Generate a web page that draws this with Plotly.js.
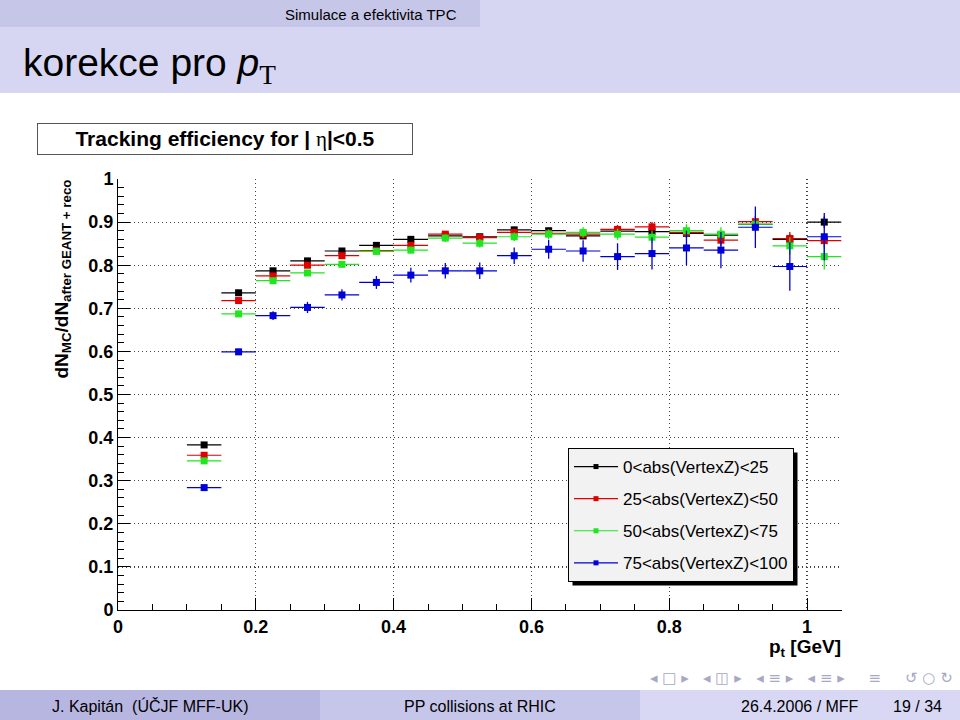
<!DOCTYPE html>
<html>
<head>
<meta charset="utf-8">
<script src="https://cdn.plot.ly/plotly-3.0.1.min.js"></script>
<style>html,body{margin:0;padding:0;background:#fff}#plot{width:960px;height:720px}</style>
</head>
<body>
<div id="plot"></div>
<script>
// bin centres (pt in GeV), bin half-width 0.025
const pt = [0.125,0.175,0.225,0.275,0.325,0.375,0.425,0.475,0.525,0.575,0.625,0.675,0.725,0.775,0.825,0.875,0.925,0.975,1.025];
const halfBin = 0.025;

const seriesNames = ["0&lt;abs(VertexZ)&lt;25","25&lt;abs(VertexZ)&lt;50","50&lt;abs(VertexZ)&lt;75","75&lt;abs(VertexZ)&lt;100"];

const effVz0_25   = [0.383,0.736,0.787,0.810,0.833,0.846,0.860,0.868,0.866,0.882,0.880,0.868,0.879,0.878,0.874,0.870,0.895,0.860,0.900];
const errVz0_25   = [0.004,0.004,0.004,0.004,0.005,0.005,0.005,0.006,0.006,0.007,0.007,0.008,0.008,0.009,0.010,0.010,0.011,0.012,0.013];
const effVz25_50  = [0.359,0.718,0.775,0.800,0.822,0.834,0.846,0.872,0.864,0.876,0.874,0.872,0.883,0.889,0.876,0.858,0.901,0.862,0.857];
const errVz25_50  = [0.005,0.005,0.005,0.005,0.006,0.006,0.007,0.007,0.008,0.008,0.009,0.010,0.010,0.011,0.012,0.013,0.014,0.015,0.016];
const effVz50_75  = [0.346,0.687,0.764,0.782,0.802,0.832,0.835,0.863,0.851,0.866,0.872,0.876,0.872,0.865,0.880,0.872,0.895,0.845,0.820];
const errVz50_75  = [0.005,0.006,0.006,0.007,0.007,0.008,0.008,0.009,0.010,0.010,0.011,0.012,0.013,0.014,0.015,0.016,0.017,0.020,0.030];
const effVz75_100 = [0.284,0.599,0.683,0.702,0.731,0.760,0.777,0.787,0.787,0.822,0.837,0.833,0.820,0.827,0.840,0.835,0.888,0.797,0.866];
const errVz75_100 = [0.006,0.007,0.010,0.013,0.013,0.015,0.017,0.018,0.019,0.019,0.022,0.025,0.031,0.037,0.040,0.042,0.048,0.056,0.055];

const xTickVals = [0,0.2,0.4,0.6,0.8,1];
const xTickText = ["0","0.2","0.4","0.6","0.8","1"];
const yTickVals = [0,0.1,0.2,0.3,0.4,0.5,0.6,0.7,0.8,0.9,1];
const yTickText = ["0","0.1","0.2","0.3","0.4","0.5","0.6","0.7","0.8","0.9","1"];

const colors = ["#000000","#e00000","#1fe61f","#0000d8"];
const effs = [effVz0_25, effVz25_50, effVz50_75, effVz75_100];
const errs = [errVz0_25, errVz25_50, errVz50_75, errVz75_100];

const W = 960, H = 720;
const px = v => v / W;
const py = v => 1 - v / H;

const traces = [];
effs.forEach((eff, i) => {
  traces.push({
    type: "scatter", mode: "markers", x: pt, y: eff,
    name: seriesNames[i], showlegend: false, legendgroup: "g" + i,
    marker: {symbol: "square", size: 7, color: colors[i]},
    error_x: {type: "constant", value: halfBin, width: 0, thickness: 1.2, color: colors[i]},
    error_y: {type: "data", array: errs[i], visible: true, width: 0, thickness: 1.3, color: colors[i]},
    cliponaxis: false, hoverinfo: "x+y"
  });
});
// legend entries (line + marker sample, as in the ROOT legend); they carry no points
effs.forEach((eff, i) => {
  traces.push({
    type: "scatter", mode: "lines+markers", x: [null], y: [null],
    name: seriesNames[i], legendgroup: "g" + i, showlegend: true,
    line: {color: colors[i], width: 1.2},
    marker: {symbol: "square", size: 5, color: colors[i]}
  });
});

const bold = "Liberation Sans, Arial, Helvetica, sans-serif";

const layout = {
  width: W, height: H,
  margin: {l: 0, r: 0, t: 0, b: 0},
  paper_bgcolor: "#ffffff", plot_bgcolor: "rgba(0,0,0,0)",
  showlegend: true,
  font: {family: bold, color: "#000"},
  xaxis: {
    domain: [px(118), px(841.5)], range: [0, 1.05], anchor: "y",
    tickmode: "array", tickvals: xTickVals, ticktext: xTickText,
    ticks: "inside", ticklen: 12, tickwidth: 1, tickcolor: "#000",
    showline: true, linecolor: "#000", linewidth: 1, mirror: false,
    showgrid: true, gridcolor: "#444", griddash: "1px,3px", gridwidth: 1.2,
    zeroline: false,
    tickfont: {family: bold, size: 18, color: "#000", weight: "bold"},
    minor: {ticks: "inside", dtick: 0.05, tick0: 0, ticklen: 6, tickcolor: "#000", showgrid: false}
  },
  yaxis: {
    domain: [py(610), py(179)], range: [0, 1], anchor: "x",
    tickmode: "array", tickvals: yTickVals, ticktext: yTickText,
    ticks: "inside", ticklen: 12, tickwidth: 1, tickcolor: "#000",
    showline: true, linecolor: "#000", linewidth: 1, mirror: false,
    showgrid: true, gridcolor: "#444", griddash: "1px,3px", gridwidth: 1.2,
    zeroline: false,
    tickfont: {family: bold, size: 18, color: "#000", weight: "bold"},
    minor: {ticks: "inside", dtick: 0.02, tick0: 0, ticklen: 6, tickcolor: "#000", showgrid: false}
  },
  legend: {
    x: px(568), y: py(448), xanchor: "left", yanchor: "top",
    bgcolor: "#f2f2f2", bordercolor: "#000", borderwidth: 1,
    font: {family: bold, size: 17, color: "#000"},
    traceorder: "grouped", tracegroupgap: 7, itemwidth: 44
  },
  shapes: [
    // slide header / title / footer bands
    {type: "rect", xref: "paper", yref: "paper", x0: 0, x1: px(480), y0: py(27), y1: 1, fillcolor: "#c6c6e8", line: {width: 0}, layer: "below"},
    {type: "rect", xref: "paper", yref: "paper", x0: px(480), x1: 1, y0: py(27), y1: 1, fillcolor: "#d6d6f2", line: {width: 0}, layer: "below"},
    {type: "rect", xref: "paper", yref: "paper", x0: 0, x1: 1, y0: py(93), y1: py(27), fillcolor: "#d6d6f2", line: {width: 0}, layer: "below"},
    {type: "rect", xref: "paper", yref: "paper", x0: 0, x1: px(320), y0: 0, y1: py(690), fillcolor: "#b6b6e0", line: {width: 0}, layer: "below"},
    {type: "rect", xref: "paper", yref: "paper", x0: px(320), x1: px(640), y0: 0, y1: py(690), fillcolor: "#c6c6ea", line: {width: 0}, layer: "below"},
    {type: "rect", xref: "paper", yref: "paper", x0: px(640), x1: 1, y0: 0, y1: py(690), fillcolor: "#d8d8f4", line: {width: 0}, layer: "below"},
    // legend drop shadow (re-fitted to the drawn legend box below)
    {type: "rect", xref: "paper", yref: "paper", x0: px(572), x1: px(801), y0: py(586), y1: py(452), fillcolor: "#000", line: {width: 0}, layer: "above"}
  ],
  annotations: [
    {xref: "paper", yref: "paper", x: px(283), y: py(14), xanchor: "left", yanchor: "middle", showarrow: false,
     text: "Simulace a efektivita TPC", font: {family: bold, size: 15, color: "#000"}},
    {xref: "paper", yref: "paper", x: px(21), y: py(65), xanchor: "left", yanchor: "middle", showarrow: false,
     text: "korekce pro <i>p</i><sub><span style='font-family:Liberation Serif'>T</span></sub>", font: {family: bold, size: 39, color: "#000"}},
    {xref: "paper", yref: "paper", x: px(225), y: py(139.5), xanchor: "center", yanchor: "middle", showarrow: false,
     text: "<b>Tracking efficiency for | </b><span style='font-family:Liberation Serif'>η</span><b>|&lt;0.5</b>",
     font: {family: bold, size: 21, color: "#000"}, bgcolor: "#fff", bordercolor: "#555", borderwidth: 1,
     width: 370, height: 26, borderpad: 2, align: "center"},
    {xref: "paper", yref: "paper", x: px(62), y: py(178), xanchor: "center", yanchor: "top", showarrow: false, textangle: -90,
     text: "<b>dN<sub>MC</sub>/dN<sub>after GEANT + reco</sub></b>", font: {family: bold, size: 19, color: "#000"}},
    {xref: "paper", yref: "paper", x: px(843), y: py(648), xanchor: "right", yanchor: "middle", showarrow: false,
     text: "<b>p<sub>t</sub> [GeV]</b>", font: {family: bold, size: 19, color: "#000"}},
    {xref: "paper", yref: "paper", x: px(955), y: py(678), xanchor: "right", yanchor: "middle", showarrow: false,
     text: "◂ □ ▸   ◂ ◫ ▸   ◂ ≡ ▸   ◂ ≡ ▸     ≡     ↺ ○ ↻", font: {family: "DejaVu Sans", size: 15, color: "#a8a8c4"}},
    {xref: "paper", yref: "paper", x: px(150), y: py(706), xanchor: "center", yanchor: "middle", showarrow: false,
     text: "J. Kapitán  (ÚČJF MFF-UK)", font: {family: bold, size: 16, color: "#000"}},
    {xref: "paper", yref: "paper", x: px(480), y: py(706), xanchor: "center", yanchor: "middle", showarrow: false,
     text: "PP collisions at RHIC", font: {family: bold, size: 16, color: "#000"}},
    {xref: "paper", yref: "paper", x: px(861), y: py(706), xanchor: "right", yanchor: "middle", showarrow: false,
     text: "26.4.2006 / MFF", font: {family: bold, size: 16, color: "#000"}},
    {xref: "paper", yref: "paper", x: px(944), y: py(706), xanchor: "right", yanchor: "middle", showarrow: false,
     text: "19 / 34", font: {family: bold, size: 16, color: "#000"}}
  ]
};

const gd = document.getElementById("plot");
Plotly.newPlot(gd, traces, layout, {staticPlot: true, displayModeBar: false}).then(() => {
  const bg = gd.querySelector(".legend .bg");
  if (!bg) return;
  const r = bg.getBoundingClientRect();
  const c = gd.getBoundingClientRect();
  const l = r.left - c.left, t = r.top - c.top, w = r.width, h = r.height;
  return Plotly.relayout(gd, {
    "shapes[6].x0": px(l + 4), "shapes[6].x1": px(l + w + 4),
    "shapes[6].y0": py(t + h + 4), "shapes[6].y1": py(t + 4)
  });
});
</script>
</body>
</html>
